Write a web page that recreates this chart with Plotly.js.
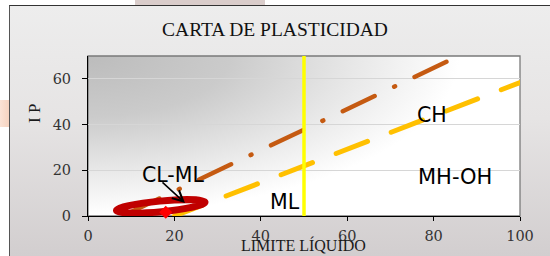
<!DOCTYPE html>
<html>
<head>
<meta charset="utf-8">
<script src="https://cdn.plot.ly/plotly-3.0.1.min.js"></script>
<style>
html,body{margin:0;padding:0;background:#fff;width:550px;height:256px;overflow:hidden;}
#wrap{position:relative;width:550px;height:256px;}
#patchTop{position:absolute;left:135px;top:0;width:130px;height:5px;background:#dacdcb;}
#patchLeft{position:absolute;left:0;top:100px;width:9px;height:27px;background:linear-gradient(to right,#fbe3d6,#f6d3c0);}
#chartbg{position:absolute;left:9px;top:5px;width:541px;height:251px;box-sizing:border-box;border-left:1px solid #555;border-top:1px solid #333;background:linear-gradient(to bottom,#ededed 0%,#e6e4e4 45%,#d2cecf 100%);}
#plotbg{position:absolute;left:88px;top:56px;width:432px;height:160px;background:radial-gradient(ellipse 100% 115% at 0% 0%,#bcbcbc 0%,#cbcbcb 33%,#e6e6e6 60%,#ffffff 86%);}
#plot{position:absolute;left:0;top:0;width:550px;height:256px;}
.scatterlayer .js-line{stroke-linecap:round !important;}
</style>
</head>
<body>
<div id="wrap">
  <div id="patchTop"></div>
  <div id="patchLeft"></div>
  <div id="chartbg"></div>
  <div id="plotbg"></div>
  <div id="plot"></div>
</div>
<script>
// ---- chart data ----
const TITULO = 'CARTA DE PLASTICIDAD';
const EJE_X = 'LIMITE LÍQUIDO';
const EJE_Y = 'I P';
const X_TICKS = [0, 20, 40, 60, 80, 100];
const Y_TICKS = [0, 20, 40, 60];

// Línea U  (IP = 0.9(LL-8))
const LL_LINEA_U = [8, 85.8];
const IP_LINEA_U = [0, 70];
// Línea A  (IP = 0.73(LL-20))
const LL_LINEA_A = [20, 100];
const IP_LINEA_A = [0, 58.4];
// Límite LL = 50
const LL_LIMITE = [50, 50];
const IP_LIMITE = [0, 70];
// Muestra
const LL_MUESTRA = [18];
const IP_MUESTRA = [1.6];

// zone labels
const ZONAS = ['CL-ML', 'ML', 'CH', 'MH-OH'];
const ZONAS_LL = [19.7, 45.6, 79.7, 85.0];
const ZONAS_IP = [18.1, 6.3, 44.2, 16.9];

// ---- traces ----
const traces = [
  {x: LL_LINEA_U, y: IP_LINEA_U, mode: 'lines', hoverinfo: 'skip',
   line: {color: '#c55a11', width: 4.5, dash: '35.3px,21.6px,1px,21.6px'}},
  {x: LL_LINEA_A, y: IP_LINEA_A, mode: 'lines', hoverinfo: 'skip',
   line: {color: '#ffc000', width: 5, dash: '33.6px,25.4px'}},
  {x: LL_LIMITE, y: IP_LIMITE, mode: 'lines', hoverinfo: 'skip',
   line: {color: '#ffff00', width: 3.5}},
  {x: LL_MUESTRA, y: IP_MUESTRA, mode: 'markers', xaxis: 'x2', yaxis: 'y2', cliponaxis: false,
   marker: {symbol: 'diamond', size: 10, color: '#ff0000', line: {width: 0}}}
];

// hand-drawn ellipse around the sample (annotation), built from centre + conjugate half-axes
function ellipsePath(cx, cy, ux, uy, vx, vy) {
  const k = 0.5523;
  const P = (a, b) => (a).toFixed(3) + ',' + (b).toFixed(3);
  const R = [cx + ux, cy + uy], T = [cx + vx, cy + vy], L = [cx - ux, cy - uy], B = [cx - vx, cy - vy];
  return 'M' + P(R[0], R[1]) +
    ' C' + P(R[0] + k * vx, R[1] + k * vy) + ' ' + P(T[0] + k * ux, T[1] + k * uy) + ' ' + P(T[0], T[1]) +
    ' C' + P(T[0] - k * ux, T[1] - k * uy) + ' ' + P(L[0] + k * vx, L[1] + k * vy) + ' ' + P(L[0], L[1]) +
    ' C' + P(L[0] - k * vx, L[1] - k * vy) + ' ' + P(B[0] - k * ux, B[1] - k * uy) + ' ' + P(B[0], B[1]) +
    ' C' + P(B[0] + k * ux, B[1] + k * uy) + ' ' + P(R[0] - k * vx, R[1] - k * vy) + ' ' + P(R[0], R[1]) + ' Z';
}

const sansFont = {family: 'DejaVu Sans', size: 20.5, color: '#000'};
const annotations = ZONAS.map((t, i) => ({
  text: t, x: ZONAS_LL[i], y: ZONAS_IP[i], xref: 'x', yref: 'y', showarrow: false,
  xanchor: 'center', yanchor: 'middle', font: Object.assign({}, sansFont, t === 'MH-OH' ? {size: 21} : {})
}));
annotations.push({
  text: '', x: 22.45, y: 5.7, xref: 'x', yref: 'y', showarrow: true,
  ax: -24, ay: -22, arrowhead: 5, arrowsize: 1.4, arrowwidth: 1.5, arrowcolor: '#000'
});
annotations.push({
  text: EJE_X, xref: 'paper', yref: 'paper', x: 0.4977, y: -0.181, showarrow: false,
  xanchor: 'center', yanchor: 'middle', font: {family: 'Liberation Serif', size: 16, color: '#1a1a1a'}
});
annotations.push({
  text: EJE_Y, xref: 'paper', yref: 'paper', x: -0.1227, y: 0.644, showarrow: false, textangle: -90,
  xanchor: 'center', yanchor: 'middle', font: {family: 'Liberation Serif', size: 17, color: '#1a1a1a'}
});

const tickFont = {family: 'DejaVu Serif', size: 14.5, color: '#333'};
const layout = {
  width: 550, height: 256,
  margin: {l: 88, r: 30, t: 56, b: 40, pad: 0},
  paper_bgcolor: 'rgba(0,0,0,0)', plot_bgcolor: 'rgba(0,0,0,0)',
  showlegend: false,
  title: {text: TITULO, x: 0.5, xref: 'container', xanchor: 'center', y: 0.887, yref: 'container', yanchor: 'middle',
          font: {family: 'Liberation Serif', size: 19.5, color: '#111'}},
  xaxis: {range: [0, 100], tickvals: X_TICKS, ticktext: X_TICKS.map(String), showgrid: false, zeroline: false,
          showline: true, linecolor: '#000', linewidth: 1, ticks: 'outside', ticklen: 4, tickcolor: '#000',
          tickfont: tickFont, ticklabelstandoff: 3, fixedrange: true},
  yaxis: {range: [0, 70], tickvals: Y_TICKS, ticktext: Y_TICKS.map(String), showgrid: true, gridcolor: '#d6d6d6',
          gridwidth: 1, zeroline: false, showline: true, linecolor: '#000', linewidth: 1, ticks: 'outside',
          ticklen: 5, tickcolor: '#000', tickfont: tickFont, ticklabelstandoff: 8, fixedrange: true},
  xaxis2: {range: [0, 100], domain: [0, 1], anchor: 'y2', visible: false, fixedrange: true},
  yaxis2: {range: [0, 70], domain: [0, 1], anchor: 'x2', visible: false, fixedrange: true},
  shapes: [
    {type: 'rect', xref: 'paper', yref: 'paper', x0: 0, x1: 1, y0: 0, y1: 1, layer: 'below',
     line: {color: '#7a7a7a', width: 1.3}, fillcolor: 'rgba(0,0,0,0)'},
    {type: 'path', xref: 'x2', yref: 'y2', layer: 'below',
     path: ellipsePath(16.84, 4.2, 10.24, 1.85, -0.2, 2.3),
     line: {color: '#c00000', width: 7}, fillcolor: 'rgba(0,0,0,0)'}
  ],
  annotations: annotations
};

Plotly.newPlot('plot', traces, layout, {staticPlot: true, displayModeBar: false}).then(gd => {
  const lines = gd.querySelectorAll('.scatterlayer .trace .js-line');
  if (lines[0]) lines[0].style.strokeDashoffset = '74.1px';
  if (lines[1]) lines[1].style.strokeDashoffset = '3.6px';
});
</script>
</body>
</html>
